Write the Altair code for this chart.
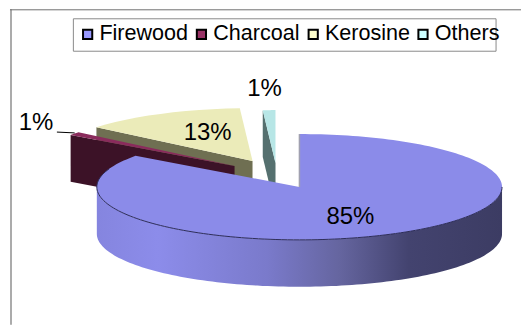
import math
import altair as alt
import pandas as pd

categories = ["Firewood", "Charcoal", "Kerosine", "Others"]
shares = [85, 1, 13, 1]
labels = ["85%", "1%", "13%", "1%"]
legend_colors = ["#9999FF", "#993366", "#FFFFCC", "#CCFFFF"]
top_colors = ["#8B8BE9", "#8A2B5C", "#EBEBB9", "#B7E6E6"]
cut_colors = ["#8B8BE9", "#3C1227", "#6F6F52", "#55706F"]

W, H = 514, 316
RX, RY, DEPTH = 203, 53, 47
apexes = [(300, 186), (235, 165), (253, 160), (276, 162)]
label_pos = [(351, 216), (36, 122), (208, 132), (265, 88)]

starts = [sum(shares[:i]) * 3.6 for i in range(len(shares))]
ends = [sum(shares[:i + 1]) * 3.6 for i in range(len(shares))]


def rim(apex, deg):
    t = math.radians(deg)
    return (apex[0] + RX * math.sin(t), apex[1] - RY * math.cos(t))


def arc(apex, a, b, n=60):
    return [rim(apex, a + (b - a) * i / n) for i in range(n + 1)]


def shape(pts, name, fill=""):
    return [{"x": p[0], "y": p[1], "piece": name, "fill": fill, "o": i} for i, p in enumerate(pts)]


x = alt.X("x:Q", scale=alt.Scale(domain=[8, 8 + W], nice=False, zero=False), axis=None)
y = alt.Y("y:Q", scale=alt.Scale(domain=[8 + H, 8], nice=False, zero=False), axis=None)

rows = []
for i in [3, 2, 1]:
    a = apexes[i]
    r = rim(a, starts[i])
    rows += shape([r, a, (a[0], a[1] + DEPTH), (r[0], r[1] + DEPTH)], f"cut{i}", cut_colors[i])
    rows += shape([a] + arc(a, starts[i], ends[i], 12), f"top{i}", top_colors[i])

back = alt.Chart(pd.DataFrame(rows)).mark_line(filled=True, interpolate="linear").encode(
    x=x, y=y, detail="piece:N", order="o:Q", fill=alt.Fill("fill:N", scale=None, legend=None)
)

c = apexes[0]
front_rim = arc(c, 90, 270, 120)
side_pts = front_rim + [(p[0], p[1] + DEPTH) for p in reversed(front_rim)]
side = alt.Chart(pd.DataFrame(shape(side_pts, "side"))).mark_line(
    filled=True,
    fill=alt.Gradient(
        gradient="linear", x1=0, x2=1, y1=0, y2=0,
        stops=[
            alt.GradientStop(offset=0, color="#8585DF"),
            alt.GradientStop(offset=0.15, color="#8C8CEA"),
            alt.GradientStop(offset=0.42, color="#7A7ACB"),
            alt.GradientStop(offset=0.6, color="#65659F"),
            alt.GradientStop(offset=0.77, color="#43436F"),
            alt.GradientStop(offset=1, color="#3C3C63"),
        ],
    ),
).encode(x=x, y=y, order="o:Q")

top_pts = [c] + arc(c, 0, 306, 200)
top = alt.Chart(pd.DataFrame(shape(top_pts, "top0", top_colors[0]))).mark_line(
    filled=True
).encode(x=x, y=y, order="o:Q", fill=alt.Fill("fill:N", scale=None, legend=None))

edge = alt.Chart(pd.DataFrame(shape(arc(c, 90, 290, 120), "edge"))).mark_line(
    color="#2C2C58", strokeWidth=1
).encode(x=x, y=y, order="o:Q")

cut_edge = alt.Chart(pd.DataFrame(shape([(c[0], rim(c, 0)[1]), c], "cutedge"))).mark_line(
    color="#A0A0B0", strokeWidth=1.5
).encode(x=x, y=y, order="o:Q")

leader_pts = [(57, 131), (rim(apexes[1], starts[1])[0] + 4, rim(apexes[1], starts[1])[1] - 2)]
leader = alt.Chart(pd.DataFrame(shape(leader_pts, "leader"))).mark_line(
    color="#000000", strokeWidth=1
).encode(x=x, y=y, order="o:Q")

text_df = pd.DataFrame({"x": [p[0] for p in label_pos], "y": [p[1] for p in label_pos], "t": labels})
text = alt.Chart(text_df).mark_text(
    font="Liberation Sans", fontSize=24, color="#000000", align="center", baseline="middle"
).encode(x=x, y=y, text="t:N")

frame_left = alt.Chart(pd.DataFrame({"a": [0]})).mark_rule(color="#ABABAB", strokeWidth=2).encode(
    x=alt.value(3), y=alt.value(0), y2=alt.value(H)
)
frame_top = alt.Chart(pd.DataFrame({"a": [0]})).mark_rule(color="#6E6E6E", strokeWidth=1).encode(
    y=alt.value(0.5), x=alt.value(2), x2=alt.value(W)
)
legend_box = alt.Chart(pd.DataFrame({"a": [0]})).mark_rect(
    filled=False, stroke="#8A8A8A", strokeWidth=1
).encode(x=alt.value(65.5), x2=alt.value(489), y=alt.value(9.5), y2=alt.value(42))

legend_layer = alt.Chart(pd.DataFrame({"cat": categories})).mark_square(size=0, filled=True).encode(
    color=alt.Color(
        "cat:N",
        scale=alt.Scale(domain=categories, range=legend_colors),
        legend=alt.Legend(
            title=None, orient="none", legendX=69, legendY=14, direction="horizontal", columns=4,
            symbolType="square", symbolSize=85, symbolStrokeColor="#000000", symbolStrokeWidth=2,
            symbolOpacity=1, labelFont="Liberation Sans", labelFontSize=21.6, labelColor="#000000",
            labelOffset=1, columnPadding=2, padding=0, labelLimit=200,
        ),
    )
)

chart = alt.layer(
    back, side, top, edge, cut_edge, leader, text, frame_left, frame_top, legend_box, legend_layer
).properties(width=W, height=H, padding=0, background="#FFFFFF").configure_view(stroke=None)

chart.save("out.html", embed_options={"renderer": "svg", "actions": False})
